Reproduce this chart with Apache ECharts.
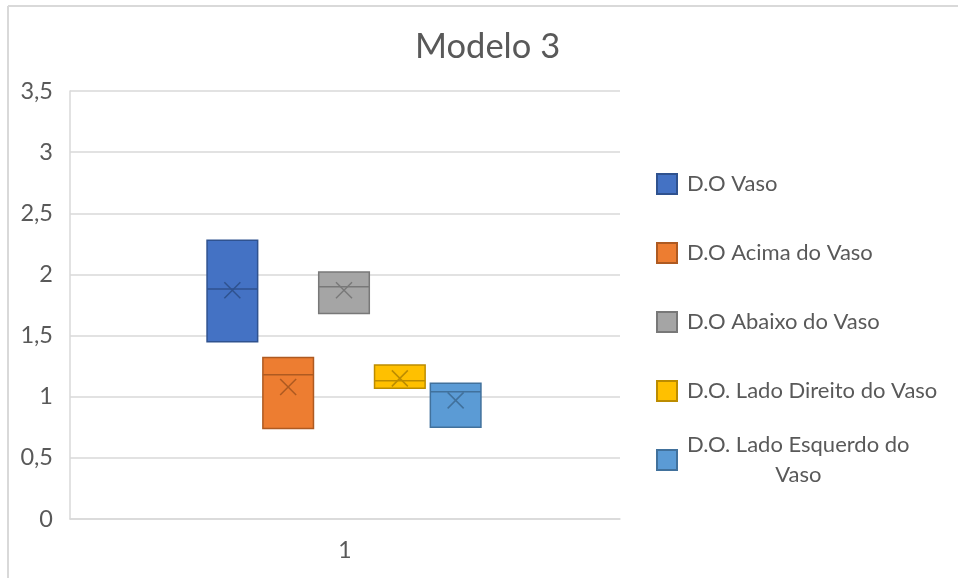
<!DOCTYPE html>
<html>
<head>
<meta charset="utf-8">
<script src="https://cdn.jsdelivr.net/npm/echarts@6/dist/echarts.min.js"></script>
<style>
  html, body { margin: 0; background: #fff; }
  #chart { width: 958px; height: 578px; }
</style>
</head>
<body>
<div id="chart"></div>
<script>
const categories = ['1']
const seriesNames = [
  'D.O Vaso',
  'D.O Acima do Vaso',
  'D.O Abaixo do Vaso',
  'D.O. Lado Direito do Vaso',
  'D.O. Lado Esquerdo do Vaso'
]
const q1 = [1.45, 0.74, 1.68, 1.07, 0.75]
const median = [1.88, 1.18, 1.90, 1.13, 1.04]
const q3 = [2.28, 1.32, 2.02, 1.26, 1.11]
const mean = [1.87, 1.08, 1.87, 1.15, 0.97]
const fills = ['#4472C4', '#ED7D31', '#A5A5A5', '#FFC000', '#5B9BD5']
const strokes = ['#2F528F', '#AE5A21', '#787878', '#BC8C00', '#41719C']

const chart = echarts.init(document.getElementById('chart'))

const font = 'Lato'
const textColor = '#595959'

const renderBox = (params, api) => {
  const idx = params.seriesIndex
  const band = api.size([1, 0])[0]
  const step = band * 0.1015
  const w = band * 0.092
  const cx = api.coord([api.value(0), 0])[0] + (idx - 2) * step - 1
  const yQ1 = api.coord([api.value(0), api.value(1)])[1]
  const yMed = api.coord([api.value(0), api.value(2)])[1]
  const yQ3 = api.coord([api.value(0), api.value(3)])[1]
  const yMean = api.coord([api.value(0), api.value(4)])[1]
  const s = 8
  const lineStyle = { stroke: strokes[idx], lineWidth: 1.5 }
  return {
    type: 'group',
    children: [
      {
        type: 'rect',
        shape: { x: cx - w / 2, y: yQ3, width: w, height: yQ1 - yQ3 },
        style: { fill: fills[idx], stroke: strokes[idx], lineWidth: 1.5 }
      },
      {
        type: 'line',
        shape: { x1: cx - w / 2, y1: yMed, x2: cx + w / 2, y2: yMed },
        style: lineStyle
      },
      {
        type: 'line',
        shape: { x1: cx - s, y1: yMean - s, x2: cx + s, y2: yMean + s },
        style: lineStyle
      },
      {
        type: 'line',
        shape: { x1: cx - s, y1: yMean + s, x2: cx + s, y2: yMean - s },
        style: lineStyle
      }
    ]
  }
}

const series = seriesNames.map((name, i) => ({
  name: name,
  type: 'custom',
  renderItem: renderBox,
  itemStyle: { color: fills[i], borderColor: strokes[i], borderWidth: 1 },
  encode: { x: 0, y: [1, 2, 3, 4] },
  data: [[0, q1[i], median[i], q3[i], mean[i]]]
}))

const option = {
  animation: false,
  backgroundColor: '#fff',
  title: {
    text: 'Modelo 3',
    left: 410,
    top: 24,
    textStyle: { fontFamily: font, fontSize: 34.5, fontWeight: 'normal', color: textColor }
  },
  graphic: [
    { type: 'line', shape: { x1: 8, y1: 6, x2: 958, y2: 6 }, style: { stroke: '#d9d9d9', lineWidth: 2 } },
    { type: 'line', shape: { x1: 8, y1: 6, x2: 8, y2: 578 }, style: { stroke: '#d9d9d9', lineWidth: 2 } }
  ],
  legend: {
    orient: 'vertical',
    left: 656,
    top: 154,
    padding: 0,
    itemWidth: 20,
    itemHeight: 20,
    itemGap: 9,
    icon: 'rect',
    data: seriesNames,
    formatter: function (name) {
      if (name === seriesNames[4]) {
        return '{a|D.O. Lado Esquerdo do}\n{c|Vaso}'
      }
      return name
    },
    textStyle: {
      fontFamily: font,
      fontSize: 22,
      color: textColor,
      lineHeight: 60,
      padding: [0, 0, 0, 5],
      rich: {
        a: { fontFamily: font, fontSize: 22, color: textColor, lineHeight: 30 },
        c: { fontFamily: font, fontSize: 22, color: textColor, lineHeight: 30, align: 'center' }
      }
    }
  },
  grid: { left: 70, right: 338, top: 91, bottom: 59 },
  xAxis: {
    type: 'category',
    data: categories,
    axisLine: { lineStyle: { color: '#d9d9d9', width: 1.5 } },
    axisTick: { show: false },
    axisLabel: { fontFamily: font, fontSize: 23, color: textColor, margin: 20 }
  },
  yAxis: {
    type: 'value',
    min: 0,
    max: 3.5,
    interval: 0.5,
    axisLine: { show: true, lineStyle: { color: '#d9d9d9', width: 1.5 } },
    axisTick: { show: false },
    splitLine: { lineStyle: { color: '#d9d9d9', width: 1.5 } },
    axisLabel: {
      fontFamily: font,
      fontSize: 23.5,
      color: textColor,
      margin: 17,
      formatter: (v) => String(v).replace('.', ',')
    }
  },
  series: series
}

chart.setOption(option)
</script>
</body>
</html>
